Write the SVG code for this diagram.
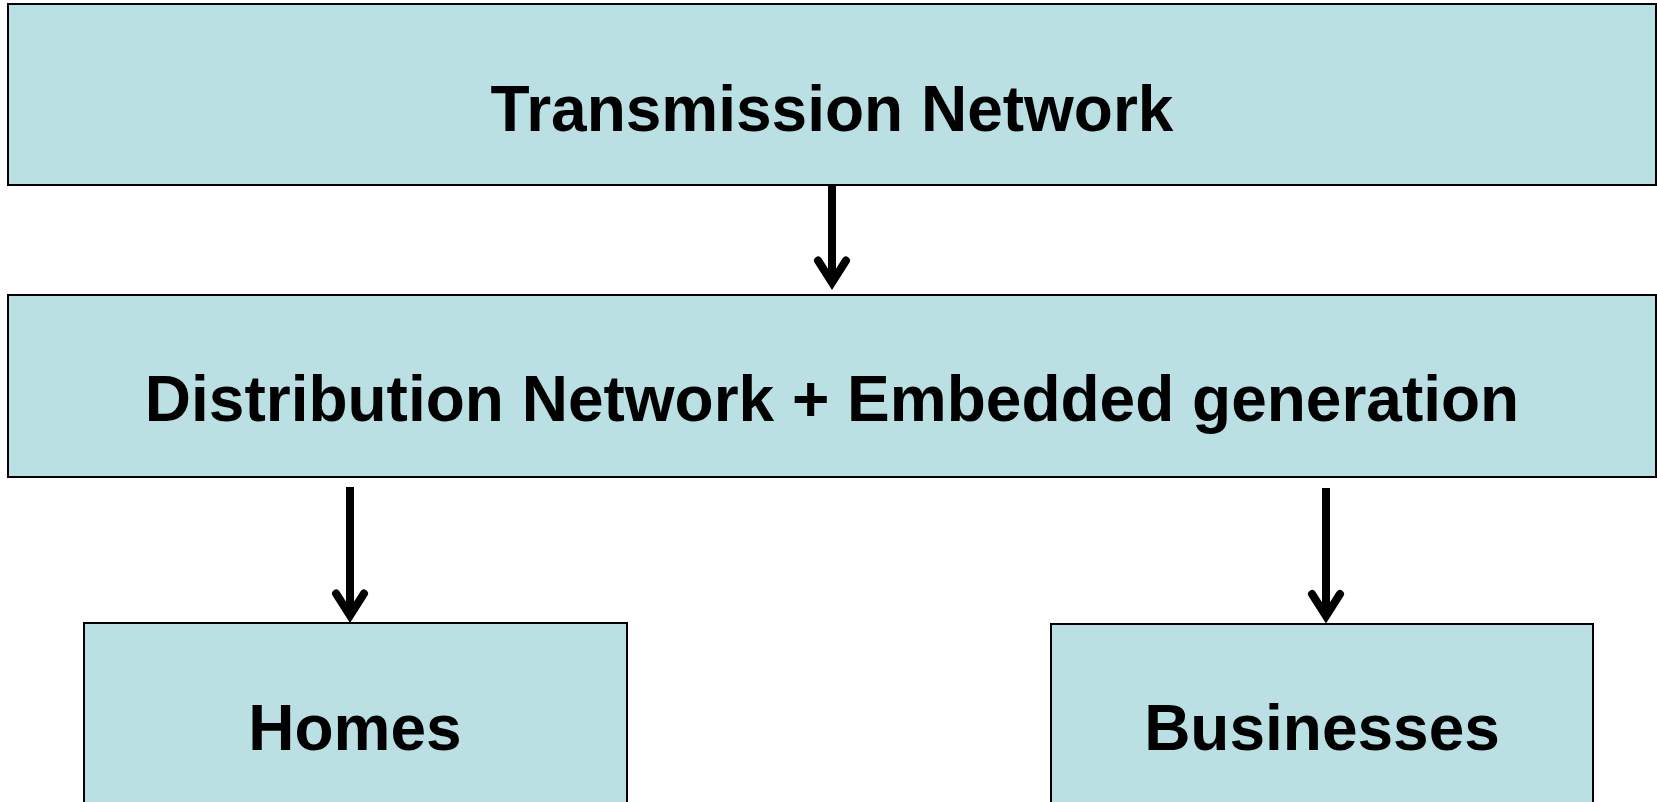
<svg xmlns="http://www.w3.org/2000/svg" width="1657" height="802" viewBox="0 0 1657 802">
  <defs>
    <style>
      .box { fill: #BBE0E3; stroke: #000; stroke-width: 2; }
      .label { font-family: "Liberation Sans", Arial, sans-serif; font-weight: bold; font-size: 64px; fill: #000; text-anchor: middle; }
      .shaft { stroke: #000; stroke-width: 8; fill: none; }
    </style>
    <marker id="chevron" markerUnits="userSpaceOnUse" orient="auto" viewBox="-40 -25 50 50" refX="0" refY="0" markerWidth="50" markerHeight="50" overflow="visible">
      <path d="M-22,-14 L0,0 L-22,14" fill="none" stroke="#000" stroke-width="8" stroke-linecap="round" stroke-linejoin="miter" stroke-miterlimit="10"/>
    </marker>
  </defs>
  <rect width="1657" height="802" fill="#fff"/>

  <g id="transmission">
    <rect class="box" x="8" y="4" width="1648" height="181"/>
    <text class="label" x="832" y="131">Transmission Network</text>
  </g>

  <g id="distribution">
    <rect class="box" x="8" y="295" width="1648" height="182"/>
    <text class="label" x="832" y="421">Distribution Network + Embedded generation</text>
  </g>

  <g id="homes">
    <rect class="box" x="84" y="623" width="543" height="200"/>
    <text class="label" x="355" y="750">Homes</text>
  </g>

  <g id="businesses">
    <rect class="box" x="1051" y="624" width="542" height="200"/>
    <text class="label" x="1322" y="750">Businesses</text>
  </g>

  <g id="connectors">
    <line class="shaft" x1="832" y1="185" x2="832" y2="282.5" marker-end="url(#chevron)"/>
    <line class="shaft" x1="350" y1="487" x2="350" y2="615.5" marker-end="url(#chevron)"/>
    <line class="shaft" x1="1326" y1="488" x2="1326" y2="616" marker-end="url(#chevron)"/>
  </g>
</svg>
